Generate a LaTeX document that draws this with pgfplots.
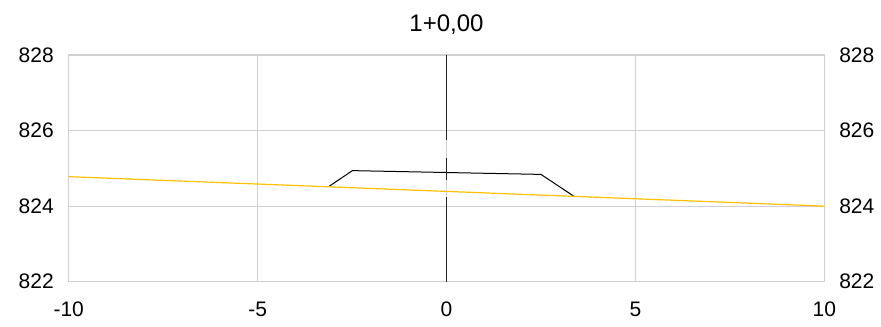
\documentclass[border=0pt]{standalone}
\usepackage{fontspec}
\setmainfont{Liberation Sans}
\usepackage{pgfplots}
\pgfplotsset{compat=1.18}
\definecolor{gridgray}{RGB}{208,208,208}
\definecolor{ground}{RGB}{255,192,0}
\begin{document}
\begin{tikzpicture}
\useasboundingbox (-34.35pt,-22.15pt) rectangle (406.15pt,140.85pt);
\begin{axis}[
  at={(0pt,0pt)}, anchor=south west,
  width=377.8pt, height=113.35pt, scale only axis,
  xmin=-10, xmax=10, ymin=822, ymax=828,
  xtick={-10,-5,0,5,10}, xticklabels={-10,-5,0,5,10},
  ytick={822,824,826,828}, yticklabels={822,824,826,828},
  grid=major, major grid style={draw=gridgray, line width=0.6pt},
  axis line style={draw=gridgray, line width=0.6pt},
  tick style={draw=none},
  xticklabel style={inner sep=0pt, anchor=base, yshift=-17.5pt, font=\fontsize{10.5}{12}\selectfont},
  yticklabel style={inner sep=0pt, anchor=east, xshift=-7.3pt, font=\fontsize{10.5}{12}\selectfont},
  clip=false,
]
\addplot[black, line width=0.5pt] coordinates {(-3.10,824.53) (-2.49,824.94) (2.50,824.84) (3.375,824.26)};
\addplot[black!85, line width=0.75pt] coordinates {(0,828) (0,825.75)};
\addplot[black!85, line width=0.75pt] coordinates {(0,825.27) (0,824.69)};
\addplot[black!85, line width=0.75pt] coordinates {(0,824.24) (0,822)};
\addplot[ground, line width=0.6pt] coordinates {(-10,824.78) (10,824.0)};
\node[anchor=base, inner sep=0pt, font=\fontsize{12}{14}\selectfont] at (rel axis cs:0.5,1) [yshift=11.65pt] {1+0,00};
\end{axis}
\begin{axis}[
  at={(0pt,0pt)}, anchor=south west,
  width=377.8pt, height=113.35pt, scale only axis,
  xmin=-10, xmax=10, ymin=822, ymax=828,
  hide x axis, axis y line*=right,
  axis line style={draw=none},
  tick style={draw=none},
  ytick={822,824,826,828}, yticklabels={822,824,826,828},
  yticklabel style={inner sep=0pt, anchor=west, xshift=7.3pt, font=\fontsize{10.5}{12}\selectfont},
]
\addplot[draw=none] coordinates {(0,824)};
\end{axis}
\end{tikzpicture}
\end{document}
